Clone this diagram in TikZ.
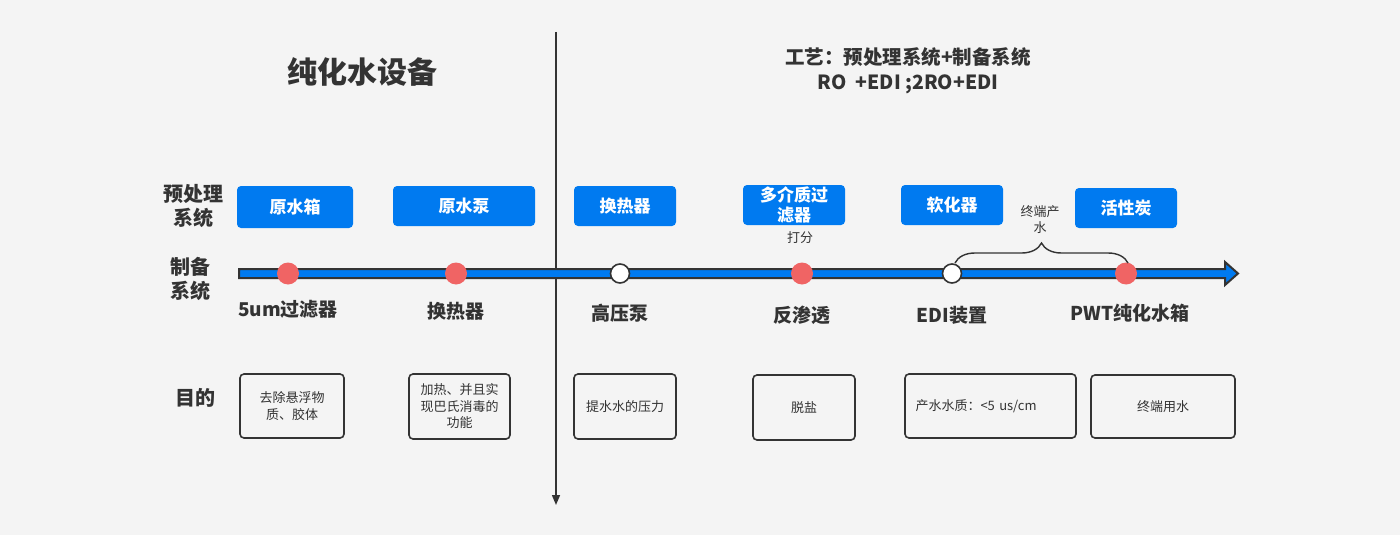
\documentclass[tikz,border=0pt]{standalone}
\usepackage{fontspec}
\setmainfont{Noto Sans CJK SC}
\usetikzlibrary{arrows.meta,decorations.pathreplacing}
\definecolor{bg}{RGB}{244,244,244}
\definecolor{myblue}{RGB}{0,122,240}
\definecolor{myred}{RGB}{240,100,100}
\definecolor{dark}{RGB}{51,51,51}
\begin{document}
\begin{tikzpicture}[x=1pt,y=-1pt,
  bluebox/.style={fill=myblue, rounded corners=4pt, text=white, font=\fontsize{17}{20}\selectfont\bfseries, align=center, inner sep=0pt, minimum width=102pt, minimum height=40pt},
  purpbox/.style={draw=dark, line width=1.6pt, rounded corners=4pt, fill=bg, text=dark, font=\fontsize{13}{16.5}\selectfont, align=center, inner sep=0pt, minimum width=102pt, minimum height=64pt},
  sidelabel/.style={text=dark, font=\fontsize{20}{24}\selectfont\bfseries, align=center, inner sep=0pt},
  steplabel/.style={text=dark, font=\fontsize{19}{22}\selectfont\bfseries, inner sep=0pt},
  smalltext/.style={text=dark, font=\fontsize{13}{16}\selectfont, align=center, inner sep=0pt},
  reddot/.style={circle, fill=myred, minimum size=22pt, inner sep=0pt},
  whitedot/.style={circle, fill=white, draw=dark, line width=1.6pt, minimum size=19pt, inner sep=0pt}
]
\path[fill=bg, use as bounding box] (0,0) rectangle (1400,535);

% divider
\coordinate (vtop) at (556,32);
\coordinate (vbot) at (556,505);
\draw[dark, line width=1.5pt, -{Triangle[length=10pt,width=8pt]}] (vtop) -- (vbot);

% headings
\node[text=dark, font=\fontsize{30}{34}\selectfont\bfseries, inner sep=0pt] (title) at (362,72) {纯化水设备};
\node[text=dark, font=\fontsize{19.5}{25}\selectfont\bfseries, align=center, inner sep=0pt] (proc) at (908,71) {工艺：预处理系统+制备系统\\RO \ +EDI ;2RO+EDI};

% side labels
\node[sidelabel] (lpre) at (193,206) {预处理\\系统};
\node[sidelabel] (lprep) at (190,279) {制备\\系统};
\node[sidelabel] (lgoal) at (195,398) {目的};

% blue boxes
\node[bluebox, minimum width=116pt, minimum height=42pt] (b1) at (295,207) {原水箱};
\node[bluebox, minimum width=142pt] (b2) at (464,206) {原水泵};
\node[bluebox] (b3) at (625,206) {换热器};
\node[bluebox] (b4) at (794,205) {多介质过\\滤器};
\node[bluebox] (b5) at (952,205) {软化器};
\node[bluebox] (b6) at (1126,208) {活性炭};
\node[smalltext] (score) at (800,238) {打分};

% timeline
\coordinate (tlstart) at (239,273.5);
\coordinate (tlend) at (1238,273.5);
\draw[dark, line width=2pt, fill=myblue, line join=miter]
  ([yshift=-4.5pt]tlstart) -- ([xshift=-13pt,yshift=-4.5pt]tlend) -- ([xshift=-13pt,yshift=-11.5pt]tlend)
  -- (tlend) -- ([xshift=-13pt,yshift=11.5pt]tlend) -- ([xshift=-13pt,yshift=4.5pt]tlend)
  -- ([yshift=4.5pt]tlstart) -- cycle;

\node[reddot] (d1) at (288,273.5) {};
\node[reddot] (d2) at (456,273.5) {};
\node[whitedot] (d3) at (620,273.5) {};
\node[reddot] (d4) at (802,273.5) {};
\node[whitedot] (d5) at (952,273.5) {};
\node[reddot] (d6) at (1126,273.5) {};

% brace
\coordinate (brl) at (955,263);
\coordinate (brr) at (1128,263);
\draw[dark, line width=1.4pt, decorate, decoration={brace, amplitude=20pt}] (brl) -- (brr);
\node[smalltext] (endwater) at (1040,220) {终端产\\水};

% step labels
\node[steplabel] (s1) at (288,309) {5um过滤器};
\node[steplabel] (s2) at (456,311) {换热器};
\node[steplabel] (s3) at (620,313) {高压泵};
\node[steplabel] (s4) at (802,315) {反渗透};
\node[steplabel] (s5) at (952,315) {EDI装置};
\node[steplabel] (s6) at (1130,313) {PWT纯化水箱};

% purpose boxes
\node[purpbox, minimum width=104pt] (p1) at (292,406) {去除悬浮物\\质、胶体};
\node[purpbox, minimum width=101pt, minimum height=65pt] (p2) at (459.5,406.5) {加热、并且实\\现巴氏消毒的\\功能};
\node[purpbox, minimum height=65pt] (p3) at (625,406.5) {提水水的压力};
\node[purpbox, minimum height=65pt] (p4) at (804,407.5) {脱盐};
\node[purpbox, minimum width=171pt, text width=150pt, align=left] (p5) at (990.5,406) {产水水质：<5 us/cm};
\node[purpbox, minimum width=144pt, minimum height=63pt] (p6) at (1163,406.5) {终端用水};
\end{tikzpicture}
\end{document}
